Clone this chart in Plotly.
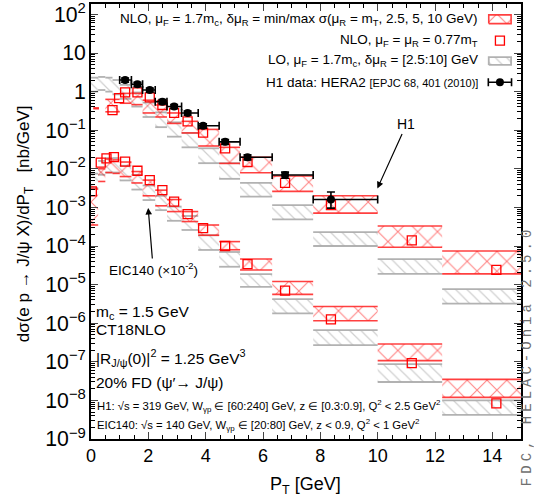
import plotly.graph_objects as go

# ---------------- data ----------------
# H1 data (HERA2)
h1_pt = [1.19, 1.62, 2.05, 2.49, 2.90, 3.37, 3.91, 4.68, 5.46, 6.77, 8.37]
h1_lo = [1.0, 1.41, 1.80, 2.24, 2.65, 3.16, 3.74, 4.47, 5.20, 6.32, 7.75]
h1_hi = [1.41, 1.80, 2.24, 2.65, 3.16, 3.74, 4.47, 5.20, 6.32, 7.75, 10.0]
h1_val = [2.0, 1.55, 1.1, 0.55, 0.41, 0.28, 0.13, 0.050, 0.020, 0.0069, 0.0016]
h1_err_up = [0.25, 0.2, 0.13, 0.07, 0.05, 0.035, 0.017, 0.007, 0.003, 0.0013, 0.0009]
h1_err_dn = [0.25, 0.2, 0.13, 0.07, 0.05, 0.035, 0.017, 0.007, 0.003, 0.0012, 0.00064]

# H1 kinematics: NLO scale band
h1nlo_lo = [0.08, 0.5, 1.0, 1.41, 1.80, 2.24, 2.65, 3.16, 3.74, 4.47, 5.20, 6.32, 7.75, 10.0, 12.25]
h1nlo_hi = [0.28, 1.0, 1.41, 1.80, 2.24, 2.65, 3.16, 3.74, 4.47, 5.20, 6.32, 7.75, 10.0, 12.25, 15.0]
h1nlo_min = [0.36, 0.30, 0.50, 0.46, 0.28, 0.22, 0.15, 0.085, 0.039, 0.0138, 0.0079, 2.6e-3, 7.1e-4, 9.3e-5, 1.9e-5]
h1nlo_max = [0.38, 0.63, 0.90, 0.90, 0.60, 0.45, 0.28, 0.17, 0.105, 0.036, 0.020, 6.5e-3, 2.0e-3, 3.3e-4, 7.4e-5]
# H1 kinematics: NLO central (0.77 mT)
h1c_pt = [0.75, 0.98, 1.19, 1.62, 2.05, 2.49, 2.90, 3.37, 3.91, 4.68, 5.46, 6.77, 8.37, 11.19, 14.14]
h1c_val = [0.33, 0.68, 0.96, 0.96, 0.71, 0.45, 0.28, 0.17, 0.087, 0.034, 0.015, 0.0043, 0.00115, 1.4e-4, 2.4e-5]
# H1 kinematics: LO band
bins_lo = [0.0, 0.25, 0.5, 0.75, 1.0, 1.41, 1.80, 2.24, 2.65, 3.16, 3.74, 4.47, 5.20, 6.32, 7.75, 10.0, 12.25]
bins_hi = [0.25, 0.5, 0.75, 1.0, 1.41, 1.80, 2.24, 2.65, 3.16, 3.74, 4.47, 5.20, 6.32, 7.75, 10.0, 12.25, 15.0]
h1lo_min = [1.0, 1.1, 1.0, 0.85, 0.65, 0.41, 0.22, 0.12, 0.068, 0.036, 0.014, 5.5e-3, 1.9e-3, 4.9e-4, 1.0e-4, 1.9e-5, 3.2e-6]
h1lo_max = [2.3, 2.4, 2.3, 2.0, 1.5, 0.95, 0.52, 0.29, 0.16, 0.085, 0.034, 0.014, 4.3e-3, 1.15e-3, 2.3e-4, 4.6e-5, 7.6e-6]

# EIC140 (x 1e-2)
eicnlo_min = [3.5e-4, 4.7e-3, 8e-3, 7.6e-3, 6.3e-3, 4.3e-3, 2.0e-3, 1.1e-3, 7.8e-4, 4.3e-4, 1.9e-4, 8e-5, 2.4e-5, 5.6e-6, 1.16e-6, 1.07e-7, 1.2e-8]
eicnlo_max = [3.0e-3, 1.0e-2, 1.8e-2, 1.7e-2, 1.5e-2, 8.5e-3, 5.1e-3, 2.8e-3, 1.6e-3, 7.8e-4, 3.5e-4, 1.3e-4, 4.6e-5, 1.2e-5, 2.7e-6, 2.9e-7, 3.5e-8]
eicc_pt = [0.03, 0.34, 0.54, 0.80, 1.19, 1.62, 2.05, 2.49, 2.90, 3.37, 3.91, 4.68, 5.46, 6.77, 8.37, 11.19, 14.14]
eicc_val = [2.6e-3, 1.44e-2, 1.87e-2, 2.0e-2, 1.53e-2, 8.9e-3, 5.1e-3, 2.8e-3, 1.41e-3, 6.7e-4, 2.9e-4, 1.0e-4, 3.4e-5, 7.0e-6, 1.26e-6, 9.2e-8, 8.4e-9]
eiclo_min = [3.2e-3, 7e-3, 8e-3, 8e-3, 5e-3, 2.9e-3, 1.55e-3, 8.5e-4, 4.5e-4, 2.6e-4, 7.9e-5, 2.9e-5, 8.7e-6, 1.8e-6, 2.7e-7, 3.0e-8, 4.2e-9]
eiclo_max = [7.5e-3, 1.6e-2, 1.9e-2, 1.9e-2, 1.2e-2, 7e-3, 3.7e-3, 2.0e-3, 1.05e-3, 6.0e-4, 1.9e-4, 7.0e-5, 1.86e-5, 4.2e-6, 6.6e-7, 8.7e-8, 1.0e-8]

RED = "#ff0000"
GRAY = "#a0a0a0"
FONT = "Liberation Sans, Arial, sans-serif"


def band_traces(lo, hi, vmin, vmax, kind, xa="x", ya="y", box=False):
    px, py, lx, ly = [], [], [], []
    for a, b, m, M in zip(lo, hi, vmin, vmax):
        px += [a, b, b, a, a, None]
        py += [m, m, M, M, m, None]
        if box:
            lx += [a, b, b, a, a, None]
            ly += [m, m, M, M, m, None]
        else:
            lx += [a, b, None, a, b, None]
            ly += [m, m, None, M, M, None]
    if kind == "nlo":
        patt = dict(shape="x", fgcolor=RED, bgcolor="rgba(0,0,0,0)", size=14, solidity=0.14)
        lc, lw = "rgba(255,30,30,0.85)", 1.6
    else:
        patt = dict(shape="\\", fgcolor=GRAY, bgcolor="rgba(0,0,0,0)", size=8, solidity=0.15)
        lc, lw = "rgba(170,170,170,0.9)", 1.8
    fill = go.Scatter(x=px, y=py, mode="lines", fill="toself", fillcolor="rgba(0,0,0,0)",
                      fillpattern=patt, line=dict(width=0, color="rgba(0,0,0,0)"),
                      hoverinfo="skip", showlegend=False, xaxis=xa, yaxis=ya)
    edges = go.Scatter(x=lx, y=ly, mode="lines", line=dict(width=lw, color=lc),
                       hoverinfo="skip", showlegend=False, xaxis=xa, yaxis=ya)
    return [fill, edges]


fig = go.Figure()
# LO bands (behind)
for t in band_traces(bins_lo, bins_hi, h1lo_min, h1lo_max, "lo"):
    fig.add_trace(t)
for t in band_traces(bins_lo, bins_hi, eiclo_min, eiclo_max, "lo"):
    fig.add_trace(t)
# NLO bands
for t in band_traces(h1nlo_lo, h1nlo_hi, h1nlo_min, h1nlo_max, "nlo"):
    fig.add_trace(t)
for t in band_traces(bins_lo, bins_hi, eicnlo_min, eicnlo_max, "nlo"):
    fig.add_trace(t)
# NLO central squares
sq = dict(symbol="square-open", size=9, color=RED, line=dict(width=1.3, color=RED))
fig.add_trace(go.Scatter(x=h1c_pt, y=h1c_val, mode="markers", marker=sq, showlegend=False))
fig.add_trace(go.Scatter(x=eicc_pt, y=eicc_val, mode="markers", marker=sq, showlegend=False))
# H1 data
fig.add_trace(go.Scatter(
    x=h1_pt, y=h1_val, mode="markers",
    marker=dict(symbol="circle", size=8, color="black"),
    error_x=dict(type="data", symmetric=False,
                 array=[h - p for h, p in zip(h1_hi, h1_pt)],
                 arrayminus=[p - l for p, l in zip(h1_pt, h1_lo)],
                 color="black", thickness=1.6, width=4),
    error_y=dict(type="data", symmetric=False, array=h1_err_up, arrayminus=h1_err_dn,
                 color="black", thickness=1.6, width=4),
    showlegend=False))

# ---- legend keys on an overlay axis (paper-like 0..1) ----
key_x0, key_x1, key_xc = 0.925, 0.977, 0.951
rows = [0.965, 0.916, 0.869, 0.820]
for t in band_traces([key_x0], [key_x1], [rows[0] - 0.010], [rows[0] + 0.010], "nlo", "x2", "y2", box=True):
    fig.add_trace(t)
fig.add_trace(go.Scatter(x=[key_xc], y=[rows[1]], mode="markers", marker=sq, xaxis="x2", yaxis="y2",
                         showlegend=False))
for t in band_traces([key_x0], [key_x1], [rows[2] - 0.009], [rows[2] + 0.009], "lo", "x2", "y2", box=True):
    fig.add_trace(t)
fig.add_trace(go.Scatter(x=[key_xc], y=[rows[3]], mode="markers",
                         marker=dict(symbol="circle", size=8, color="black"),
                         error_x=dict(type="constant", value=0.027, color="black", thickness=1.6, width=4),
                         xaxis="x2", yaxis="y2", showlegend=False))

leg_texts = [
    "NLO, μ<sub>F</sub> = 1.7m<sub>c</sub>, δμ<sub>R</sub> = min/max σ(μ<sub>R</sub> = m<sub>T</sub>, 2.5, 5, 10 GeV)",
    "NLO, μ<sub>F</sub> = μ<sub>R</sub> = 0.77m<sub>T</sub>",
    "LO, μ<sub>F</sub> = 1.7m<sub>c</sub>, δμ<sub>R</sub> = [2.5:10] GeV",
    "H1 data: HERA2 <span style='font-size:11px'>[EPJC 68, 401 (2010)]</span>",
]
ann = []
for txt, yy in zip(leg_texts, rows):
    ann.append(dict(x=0.905, y=yy, xref="paper", yref="paper", text=txt, showarrow=False,
                    xanchor="right", yanchor="middle", font=dict(size=13.5, family=FONT, color="black")))

ann.append(dict(x=0.666, y=0.576, xref="paper", yref="paper", text="H1", showarrow=True,
                ax=29, ay=-64, axref="pixel", ayref="pixel", arrowhead=2, arrowsize=1.1,
                arrowwidth=1.2, arrowcolor="black", standoff=0,
                font=dict(size=14, family=FONT, color="black")))
ann.append(dict(x=0.133, y=0.531, xref="paper", yref="paper", text="EIC140 (×10<sup>-2</sup>)",
                showarrow=True, ax=5, ay=61, arrowhead=2, arrowsize=1.1, arrowwidth=1.2,
                arrowcolor="black", font=dict(size=13.5, family=FONT, color="black")))

left_texts = [("m<sub>c</sub> = 1.5 GeV", 0.290), ("CT18NLO", 0.251),
              ("|R<sub>J/ψ</sub>(0)|<sup>2</sup> = 1.25 GeV<sup>3</sup>", 0.186),
              ("20% FD (ψ′→ J/ψ)", 0.129)]
for txt, yy in left_texts:
    ann.append(dict(x=0.008, y=yy, xref="paper", yref="paper", text=txt, showarrow=False,
                    xanchor="left", yanchor="middle", font=dict(size=15.5, family=FONT, color="black")))

ann.append(dict(x=0.010, y=0.077, xref="paper", yref="paper",
                text="H1: √s = 319 GeV, W<sub>γp</sub> ∈ [60:240] GeV, z ∈ [0.3:0.9], Q<sup>2</sup> < 2.5 GeV<sup>2</sup>",
                showarrow=False, xanchor="left", yanchor="middle", font=dict(size=11.3, family=FONT, color="black")))
ann.append(dict(x=0.010, y=0.032, xref="paper", yref="paper",
                text="EIC140: √s = 140 GeV, W<sub>γp</sub> ∈ [20:80] GeV, z < 0.9, Q<sup>2</sup> < 1 GeV<sup>2</sup>",
                showarrow=False, xanchor="left", yanchor="middle", font=dict(size=11.3, family=FONT, color="black")))

ann.append(dict(x=1.0145, y=0.191, xref="paper", yref="paper",
                text="<span style='letter-spacing:4px'>FDC, HELAC-Onia 2.5.0</span>",
                showarrow=False, textangle=-90, xanchor="center", yanchor="middle",
                font=dict(size=14, family="Liberation Mono, DejaVu Sans Mono, monospace", color="#707070")))
ann.append(dict(x=-0.153, y=0.494, xref="paper", yref="paper",
                text="dσ(e p → J/ψ X)/dP<sub>T</sub>   [nb/GeV]",
                showarrow=False, textangle=-90, xanchor="center", yanchor="middle",
                font=dict(size=17, family=FONT, color="black")))
ann.append(dict(x=0.498, y=-0.106, xref="paper", yref="paper", text="P<sub>T</sub> [GeV]",
                showarrow=False, xanchor="center", yanchor="middle",
                font=dict(size=18, family=FONT, color="black")))

fig.update_layout(
    width=534, height=500,
    margin=dict(l=91, r=13, t=4, b=61, autoexpand=False),
    plot_bgcolor="white", paper_bgcolor="white",
    font=dict(family=FONT, size=18, color="black"),
    annotations=ann,
    xaxis=dict(range=[0, 15], tickmode="linear", tick0=0, dtick=2, ticks="inside", ticklen=7,
               tickwidth=1.2, showline=True, linecolor="black", linewidth=1.5, mirror="allticks",
               showgrid=False, zeroline=False, tickfont=dict(size=18), automargin=False,
               minor=dict(ticks="inside", ticklen=4, dtick=0.5, tickcolor="black", showgrid=False)),
    yaxis=dict(type="log", range=[-9, 2.27], dtick=1, exponentformat="power", ticks="inside", ticklen=7,
               tickwidth=1.2, showline=True, linecolor="black", linewidth=1.5, mirror="allticks",
               showgrid=False, zeroline=False, tickfont=dict(size=17), automargin=False,
               ticklabeloverflow="allow",
               minor=dict(ticks="inside", ticklen=4, tickcolor="black", showgrid=False)),
    xaxis2=dict(overlaying="x", range=[0, 1], visible=False, fixedrange=True),
    yaxis2=dict(overlaying="y", range=[0, 1], visible=False, fixedrange=True),
)

fig.write_html("out.html", config={"displayModeBar": False},
               post_script="document.body.style.margin='0';document.body.style.overflow='hidden';")
